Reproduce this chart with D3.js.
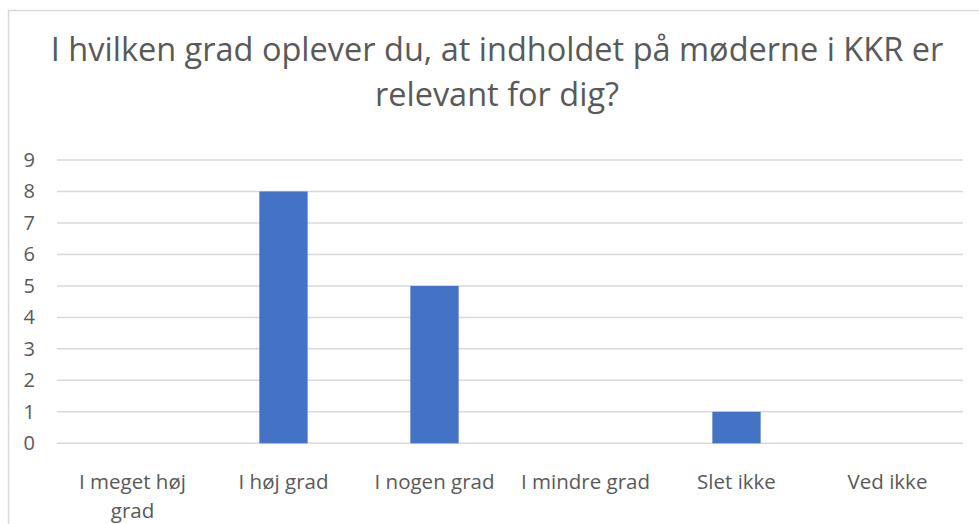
<!DOCTYPE html>
<html>
<head>
<meta charset="utf-8">
<script src="https://cdn.jsdelivr.net/npm/d3@7"></script>
<style>
  body { margin: 0; background: #fff; }
  text { font-family: 'Open Sans', sans-serif; fill: #595959; }
</style>
</head>
<body>
<div id="chart"></div>
<script>
// data
const categories = ['I meget høj grad', 'I høj grad', 'I nogen grad', 'I mindre grad', 'Slet ikke', 'Ved ikke'];
const values = [0, 8, 5, 0, 1, 0];
const yTicks = [0, 1, 2, 3, 4, 5, 6, 7, 8, 9];
const titleLines = ['I hvilken grad oplever du, at indholdet på møderne i KKR er', 'relevant for dig?'];

const width = 979, height = 524;
const margin = { top: 160, left: 57, right: 16, bottom: 81 };

const svg = d3.select('#chart').append('svg')
  .attr('width', width)
  .attr('height', height);

// chart area border
svg.append('rect')
  .attr('x', 8.5).attr('y', 10.5)
  .attr('width', 990).attr('height', 540)
  .attr('fill', 'none')
  .attr('stroke', '#d9d9d9')
  .attr('stroke-width', 1.5);

// title
svg.append('g').selectAll('text')
  .data(titleLines)
  .join('text')
  .attr('x', 497)
  .attr('y', (d, i) => 61 + i * 45)
  .attr('text-anchor', 'middle')
  .style('font-size', '32.5px')
  .text(d => d);

const x = d3.scaleBand()
  .domain(categories)
  .range([margin.left, width - margin.right])
  .paddingInner(0.68)
  .paddingOuter(0.34);

const y = d3.scaleLinear()
  .domain([0, 9])
  .range([443.3, 160]);

// gridlines
svg.append('g').selectAll('line')
  .data(yTicks)
  .join('line')
  .attr('x1', margin.left)
  .attr('x2', width - margin.right)
  .attr('y1', d => y(d))
  .attr('y2', d => y(d))
  .attr('stroke', '#d9d9d9')
  .attr('stroke-width', 1.5);

// y axis labels
const yAxis = svg.append('g')
  .attr('transform', `translate(${margin.left - 22},0)`)
  .call(d3.axisLeft(y).tickValues(yTicks).tickSize(0).tickPadding(0));
yAxis.select('.domain').remove();
yAxis.selectAll('text')
  .style('font-size', '20px')
  .style('font-family', "'Open Sans', sans-serif")
  .attr('fill', '#595959');

// bars
svg.append('g').selectAll('rect')
  .data(categories)
  .join('rect')
  .attr('x', d => x(d))
  .attr('width', x.bandwidth())
  .attr('y', (d, i) => y(values[i]))
  .attr('height', (d, i) => y(0) - y(values[i]))
  .attr('fill', '#4472c4');

// category labels, wrapped to the band step
const step = x.step();
const xAxis = svg.append('g');
categories.forEach(c => {
  const cx = x(c) + x.bandwidth() / 2;
  const t = xAxis.append('text')
    .attr('x', cx)
    .attr('y', 489)
    .attr('text-anchor', 'middle')
    .style('font-size', '20.5px');
  const words = c.split(' ');
  let line = [];
  let tspan = t.append('tspan').attr('x', cx).attr('dy', 0);
  words.forEach(w => {
    line.push(w);
    tspan.text(line.join(' '));
    if (tspan.node().getComputedTextLength() > step - 20 && line.length > 1) {
      line.pop();
      tspan.text(line.join(' '));
      line = [w];
      tspan = t.append('tspan').attr('x', cx).attr('dy', '29px').text(w);
    }
  });
});
</script>
</body>
</html>
